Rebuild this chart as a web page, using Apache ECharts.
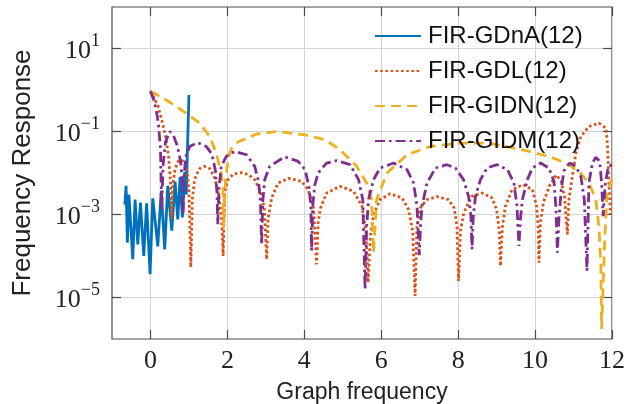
<!DOCTYPE html>
<html>
<head>
<meta charset="utf-8">
<script src="https://cdn.jsdelivr.net/npm/echarts@6/dist/echarts.min.js"></script>
<style>
  html, body { margin: 0; padding: 0; background: #fff; }
  #chart { width: 626px; height: 404px; }
</style>
</head>
<body>
<div id="chart"></div>
<script>
// tick labels (x values, and y as powers of ten)
const xTicks = ['-1', '0', '1', '2', '3', '4', '5', '6', '7', '8', '9', '10', '11', '12'];
const yTicks = ['-6', '-5', '-4', '-3', '-2', '-1', '0', '1', '2'];

const names = ['FIR-GDnA(12)', 'FIR-GDL(12)', 'FIR-GIDN(12)', 'FIR-GIDM(12)'];

// x position and log10 of the response
const gdnaX = [-0.665, -0.634, -0.60, -0.56, -0.46, -0.40, -0.33, -0.26, -0.175, -0.10, -0.01, 0.06,
  0.19, 0.28, 0.37, 0.45, 0.555, 0.64, 0.71, 0.77, 0.83, 0.89, 0.93, 1.0];
const gdnaExp = [-2.76, -2.31, -3.68, -2.52, -4.08, -2.64, -3.72, -2.71, -4.0, -2.73, -4.44, -2.61,
  -3.77, -2.43, -3.84, -2.31, -3.39, -2.21, -3.12, -2.09, -3.07, -1.97, -2.52, -0.12];

const gdlX = [0, 0.1, 0.2, 0.3, 0.4, 0.47, 0.52, 0.55,
  0.58, 0.64, 0.72, 0.8, 0.88, 0.95, 1.0, 1.05,
  1.09, 1.15, 1.27, 1.41, 1.55, 1.67, 1.78, 1.85, 1.89,
  1.93, 2.02, 2.15, 2.36, 2.55, 2.71, 2.86, 2.96, 3.02,
  3.06, 3.15, 3.32, 3.6, 3.93, 4.1, 4.24, 4.32,
  4.36, 4.42, 4.58, 4.93, 5.28, 5.5, 5.6, 5.66,
  5.72, 5.8, 5.97, 6.23, 6.54, 6.71, 6.82, 6.88,
  6.93, 7.01, 7.19, 7.45, 7.75, 7.9, 7.97, 8.01,
  8.06, 8.15, 8.36, 8.62, 8.88, 9.0, 9.07, 9.1,
  9.15, 9.23, 9.4, 9.69, 9.93, 10.04, 10.08, 10.1,
  10.14, 10.22, 10.38, 10.55, 10.68, 10.77, 10.84,
  10.88, 10.97, 11.06, 11.19, 11.4, 11.66, 11.84, 11.88, 11.92, 11.96];
const gdlExp = [-0.03, -0.2, -0.4, -0.75, -1.15, -1.6, -2.2, -3.1,
  -2.3, -1.9, -1.72, -1.68, -1.75, -1.95, -2.4, -4.27,
  -2.6, -2.15, -1.9, -1.84, -1.9, -2.12, -2.55, -3.1, -4.0,
  -2.45, -2.16, -2.03, -1.99, -2.04, -2.16, -2.45, -2.85, -4.08,
  -3.1, -2.6, -2.24, -2.13, -2.2, -2.4, -2.85, -4.2,
  -3.2, -2.85, -2.48, -2.32, -2.44, -2.8, -3.4, -4.64,
  -3.5, -3.0, -2.64, -2.5, -2.6, -2.88, -3.4, -4.96,
  -3.3, -2.85, -2.64, -2.57, -2.64, -2.85, -3.3, -4.6,
  -3.4, -2.95, -2.56, -2.48, -2.6, -2.88, -3.4, -4.24,
  -3.3, -2.8, -2.4, -2.28, -2.4, -2.8, -3.3, -4.16,
  -3.2, -2.7, -2.3, -2.05, -2.2, -2.6, -3.48,
  -2.64, -2.08, -1.52, -1.12, -0.88, -0.8, -0.92, -1.28, -2.24, -3.0];

const gidnX = [0, 0.41, 0.93, 1.28, 1.54, 1.71, 1.84, 1.885, 1.9, 1.95, 2.02, 2.1, 2.28, 2.76, 3.3,
  4.02, 4.54, 4.93, 5.36, 5.62, 5.75, 5.8, 5.88, 6.15, 6.67, 7.28, 8.06, 8.8, 9.67, 10.36,
  10.8, 11.14, 11.4, 11.58, 11.66, 11.71, 11.73, 11.81, 11.88, 12.0];
const gidnExp = [-0.03, -0.24, -0.56, -0.8, -1.12, -1.52, -2.0, -2.4, -3.32, -2.2, -1.65, -1.42, -1.25, -1.06, -1.0,
  -1.08, -1.2, -1.44, -1.84, -2.24, -2.64, -3.92, -2.64, -2.0, -1.56, -1.36, -1.28, -1.28, -1.44, -1.6,
  -1.76, -1.96, -2.24, -2.64, -3.28, -4.24, -5.76, -3.6, -2.4, -2.16];

const gidmX = [0, 0.08, 0.15, 0.21, 0.26, 0.29, 0.33, 0.39, 0.5, 0.6, 0.7, 0.78, 0.83, 0.85,
  0.87, 0.92, 1.02, 1.23, 1.45, 1.6, 1.69, 1.73, 1.75,
  1.78, 1.84, 1.97, 2.19, 2.5, 2.71, 2.81, 2.86, 2.89,
  2.92, 2.97, 3.1, 3.49, 3.84, 4.02, 4.12, 4.17, 4.19,
  4.22, 4.27, 4.36, 4.58, 4.84, 5.19, 5.41, 5.52, 5.58,
  5.62, 5.67, 5.8, 5.97, 6.32, 6.67, 6.84, 6.93, 6.99,
  7.02, 7.06, 7.19, 7.41, 7.71, 7.93, 8.14, 8.27, 8.33, 8.36,
  8.39, 8.45, 8.58, 8.75, 9.01, 9.28, 9.45, 9.53, 9.58,
  9.62, 9.67, 9.8, 9.93, 10.14, 10.36, 10.49, 10.54, 10.58,
  10.62, 10.68, 10.75, 10.9, 11.06, 11.19, 11.28, 11.35,
  11.4, 11.49, 11.58, 11.68, 11.73, 11.77, 11.82, 11.9, 12];
const gidmExp = [-0.03, -0.22, -0.48, -0.85, -1.4, -2.9, -1.8, -1.25, -1.0, -1.1, -1.35, -1.7, -2.2, -3.0,
  -2.1, -1.6, -1.36, -1.27, -1.36, -1.55, -1.95, -2.5, -3.24,
  -2.4, -1.84, -1.6, -1.48, -1.56, -1.84, -2.2, -2.7, -3.72,
  -2.7, -2.16, -1.84, -1.61, -1.72, -1.92, -2.32, -2.8, -3.88,
  -2.8, -2.3, -2.0, -1.76, -1.7, -1.8, -2.16, -2.64, -4.8,
  -3.3, -2.64, -2.16, -1.88, -1.76, -1.92, -2.24, -2.8, -3.98,
  -3.3, -2.8, -2.24, -1.88, -1.8, -1.88, -2.16, -2.56, -3.0, -3.84,
  -3.1, -2.56, -2.16, -1.88, -1.8, -1.92, -2.24, -2.8, -3.76,
  -3.1, -2.64, -2.16, -1.88, -1.76, -1.88, -2.2, -2.8, -3.92,
  -3.1, -2.4, -1.95, -1.76, -1.84, -2.08, -2.64, -4.36,
  -2.24, -1.76, -1.62, -1.72, -2.24, -3.04, -2.3, -1.85, -1.8];

function pairs(xs, es) {
  return xs.map((x, i) => [x, Math.pow(10, es[i])]);
}

const evenX = (i, v) => Number(v) % 2 === 0;
const oddY = (i, v) => Math.abs(Number(v)) % 2 === 1;

const serif = 'Liberation Serif';
const sans = 'Liberation Sans';
const ink = '#222';
const frame = '#4a4a4a';

function lineSeries(name, data, color, type) {
  return {
    name: name,
    type: 'line',
    data: data,
    xAxisIndex: 0,
    yAxisIndex: 0,
    symbol: 'none',
    silent: true,
    itemStyle: { color: color },
    lineStyle: { color: color, width: 2.8, type: type }
  };
}

const chart = echarts.init(document.getElementById('chart'));
chart.setOption({
  animation: false,
  grid: {
    left: 112, right: 14, top: 7, bottom: 65,
    outerBoundsMode: 'none',
    show: true, borderColor: frame, borderWidth: 1.2
  },
  legend: {
    data: names,
    orient: 'vertical',
    left: 369, top: 19,
    itemWidth: 46, itemHeight: 14, itemGap: 11,
    itemStyle: { opacity: 0 },
    textStyle: { fontFamily: sans, fontSize: 24, color: '#111', lineHeight: 22, padding: [0, 0, 0, 2] }
  },
  xAxis: [
    { type: 'value', min: -1, max: 12, show: false },
    {
      type: 'category', data: xTicks, boundaryGap: false, position: 'bottom',
      axisLine: { show: false },
      axisTick: { inside: true, length: 9, interval: evenX, lineStyle: { color: frame, width: 1.2 } },
      axisLabel: { interval: evenX, fontFamily: serif, fontSize: 26, color: ink, margin: 9 },
      splitLine: { show: true, interval: evenX, lineStyle: { color: '#d4d4d4', width: 1 } },
      name: 'Graph frequency', nameLocation: 'middle', nameGap: 42,
      nameTextStyle: { fontFamily: sans, fontSize: 23, color: ink }
    },
    {
      type: 'category', data: xTicks, boundaryGap: false, position: 'top',
      axisLine: { show: false },
      axisTick: { inside: true, length: 9, interval: evenX, lineStyle: { color: frame, width: 1.2 } },
      axisLabel: { show: false },
      splitLine: { show: false }
    }
  ],
  yAxis: [
    { type: 'log', logBase: 10, min: 1e-6, max: 100, show: false },
    {
      type: 'category', data: yTicks, boundaryGap: false, position: 'left',
      axisLine: { show: false },
      axisTick: { inside: true, length: 9, interval: oddY, lineStyle: { color: frame, width: 1.2 } },
      axisLabel: {
        interval: oddY, margin: 12,
        formatter: v => '{b|10}{s|' + v.replace('-', '\u2212') + '}',
        rich: {
          b: { fontFamily: serif, fontSize: 26, color: ink, lineHeight: 32, verticalAlign: 'bottom' },
          s: { fontFamily: serif, fontSize: 18, color: ink, lineHeight: 32, verticalAlign: 'top' }
        }
      },
      splitLine: { show: true, interval: oddY, lineStyle: { color: '#d4d4d4', width: 1 } },
      name: 'Frequency Response', nameLocation: 'middle', nameGap: 76, nameRotate: 90,
      nameTextStyle: { fontFamily: sans, fontSize: 26, color: ink }
    },
    {
      type: 'category', data: yTicks, boundaryGap: false, position: 'right',
      axisLine: { show: false },
      axisTick: { inside: true, length: 9, interval: oddY, lineStyle: { color: frame, width: 1.2 } },
      axisLabel: { show: false },
      splitLine: { show: false }
    }
  ],
  series: [
    lineSeries(names[0], pairs(gdnaX, gdnaExp), '#0072BD', 'solid'),
    lineSeries(names[1], pairs(gdlX, gdlExp), '#D95319', [2.6, 2.6]),
    lineSeries(names[2], pairs(gidnX, gidnExp), '#EDB120', [10, 6]),
    lineSeries(names[3], pairs(gidmX, gidmExp), '#7E2F8E', [10, 4, 2.6, 4])
  ]
});
</script>
</body>
</html>
